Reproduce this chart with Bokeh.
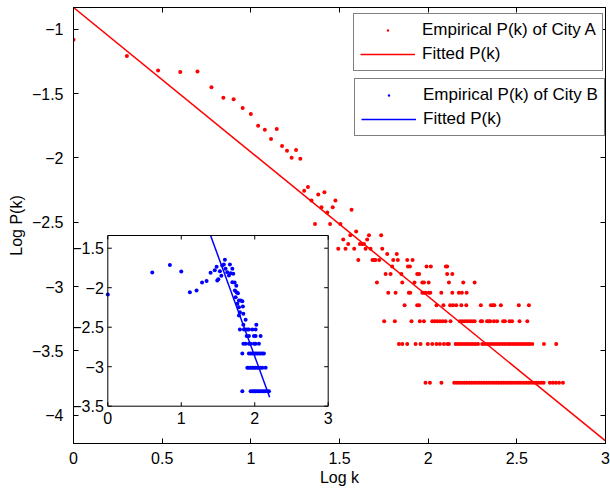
import math
from bokeh.plotting import figure
from bokeh.models import Range1d, LinearAxis, FixedTicker, Legend, LegendItem
from bokeh.core.properties import value
from bokeh.embed import file_html
from bokeh.resources import INLINE

FONT = "Liberation Sans"
FS = "16px"

# ---------------- City A (main plot), values read in log10 units ----------------
a_top_x = [0.000, 0.301, 0.477, 0.602, 0.699, 0.778, 0.845, 0.903, 0.954, 1.000, 1.041,
           1.079, 1.114, 1.146, 1.176, 1.204, 1.230, 1.255, 1.279, 1.301, 1.322, 1.342,
           1.362, 1.380, 1.398, 1.415, 1.431, 1.447, 1.462, 1.477, 1.505, 1.568]
a_top_y = [-1.080, -1.207, -1.319, -1.332, -1.327, -1.451, -1.531, -1.544, -1.612, -1.659,
           -1.749, -1.780, -1.853, -1.775, -1.907, -1.943, -1.998, -1.938, -2.006, -2.254,
           -2.226, -2.330, -2.514, -2.283, -2.384, -2.267, -2.423, -2.514, -2.384, -2.330,
           -2.514, -2.402]

a_row_y = [-2.571, -2.601, -2.633, -2.668, -2.706, -2.747, -2.793, -2.844, -2.902,
           -2.969, -3.048, -3.145, -3.270, -3.446, -3.747]
a_row_x = [
    [1.594],
    [1.561, 1.666, 1.735],
    [1.521, 1.656],
    [1.549, 1.615, 1.628, 1.638],
    [1.493, 1.534, 1.583, 1.647, 1.675, 1.741],
    [1.769, 1.823],
    [1.606, 1.686, 1.695, 1.703, 1.724, 1.803, 1.829, 1.882, 1.912],
    [1.797, 1.886, 1.897, 1.991, 2.015, 2.100, 2.107],
    [1.760, 1.788, 1.849, 1.938, 1.949, 2.107, 2.136],
    [1.711, 1.854, 1.923, 1.967, 1.976, 2.003, 2.117, 2.198, 2.262],
    [1.775, 1.816, 1.891, 1.899, 1.967, 1.976, 1.985, 2.003, 2.012, 2.074, 2.136, 2.173,
     2.190, 2.217],
    [1.867, 1.938, 1.949, 2.047, 2.086, 2.124, 2.140, 2.158, 2.187, 2.215, 2.297, 2.354,
     2.366, 2.373, 2.410, 2.511, 2.568],
    [1.752, 1.812, 1.906, 1.953, 1.976, 2.023, 2.037, 2.051, 2.066, 2.082, 2.098, 2.126,
     2.179, 2.193, 2.207, 2.221, 2.235, 2.248, 2.262, 2.297, 2.304, 2.332, 2.340, 2.350,
     2.371, 2.389, 2.423, 2.433, 2.459, 2.473, 2.515, 2.559],
    [1.835, 1.854, 1.882, 1.929, 1.957, 1.998, 2.023, 2.047, 2.066, 2.089, 2.108, 2.117,
     2.155, 2.169, 2.183, 2.197, 2.211, 2.225, 2.239, 2.253, 2.267, 2.281, 2.305, 2.319,
     2.333, 2.347, 2.361, 2.375, 2.389, 2.403, 2.417, 2.431, 2.445, 2.459, 2.473, 2.487,
     2.501, 2.515, 2.529, 2.543, 2.557, 2.571, 2.587, 2.653, 2.722],
    [1.985, 2.010, 2.075, 2.147, 2.161, 2.175, 2.189, 2.203, 2.217, 2.231, 2.245, 2.259,
     2.273, 2.287, 2.301, 2.315, 2.329, 2.343, 2.357, 2.371, 2.385, 2.399, 2.413, 2.427,
     2.441, 2.455, 2.469, 2.483, 2.497, 2.511, 2.525, 2.539, 2.553, 2.567, 2.581, 2.595,
     2.609, 2.623, 2.637, 2.651, 2.686, 2.703, 2.720, 2.738, 2.760],
]
a_fit_x = [0.0, 3.0]
a_fit_y = [-0.83, -4.20]

# ---------------- City B (inset) ----------------
b_top_x = [0.000, 0.605, 0.845, 1.000, 1.117, 1.208, 1.283, 1.345, 1.399, 1.456, 1.481,
           1.490, 1.504, 1.526, 1.545, 1.558, 1.580, 1.594, 1.603, 1.626, 1.649, 1.662,
           1.672, 1.695, 1.708, 1.695, 1.726, 1.749, 1.730, 1.753, 1.771, 1.740, 1.785,
           1.808, 1.763, 1.831, 1.785, 1.839, 1.798, 1.845, 1.785, 1.876]
b_top_y = [-2.086, -1.808, -1.711, -1.796, -2.057, -2.035, -1.934, -1.915, -1.810, -1.780,
           -1.734, -1.909, -1.892, -1.791, -1.850, -1.719, -1.706, -1.647, -1.761, -1.804,
           -1.846, -1.706, -1.816, -1.761, -1.824, -1.930, -1.934, -1.976, -2.035, -2.057,
           -2.070, -2.120, -2.162, -2.162, -2.204, -2.171, -2.247, -2.238, -2.310, -2.330,
           -2.352, -2.406]
b_row_y = [-2.470, -2.529, -2.611, -2.708, -2.833, -3.014, -3.310]
b_row_x = [
    [1.845, 2.022],
    [1.798, 1.853, 1.876, 1.899, 1.921, 1.967, 2.012],
    [1.890, 1.921, 1.989, 2.012, 2.080],
    [1.845, 1.876, 1.921, 1.944, 1.989, 2.012, 2.057],
    [1.831, 1.921, 1.944, 1.967, 1.990, 2.012, 2.035, 2.058, 2.080, 2.103, 2.125],
    [1.899, 1.921, 1.944, 1.967, 1.990, 2.012, 2.035, 2.058, 2.080, 2.103, 2.148],
    [1.831, 1.944, 1.967, 1.990, 2.012, 2.035, 2.058, 2.080, 2.103, 2.126, 2.148, 2.171,
     2.194],
]
b_fit_x = [1.399, 2.203]
b_fit_y = [-1.339, -3.386]

# tick definitions
main_xticks = [0, 0.5, 1, 1.5, 2, 2.5, 3]
main_xlabels = ["0", "0.5", "1", "1.5", "2", "2.5", "3"]
main_yticks = [-4, -3.5, -3, -2.5, -2, -1.5, -1]
main_ylabels = ["\u22124", "\u22123.5", "\u22123", "\u22122.5", "\u22122", "\u22121.5", "\u22121"]
inset_xticks = [0, 1, 2, 3]
inset_xlabels = ["0", "1", "2", "3"]
inset_yticks = [-1.5, -2, -2.5, -3, -3.5]
inset_ylabels = ["\u22121.5", "\u22122", "\u22122.5", "\u22123", "\u22123.5"]

# ---------------- assemble ----------------
a_x = list(a_top_x)
a_y = list(a_top_y)
for yv, xs in zip(a_row_y, a_row_x):
    a_x += xs
    a_y += [yv] * len(xs)
b_x = list(b_top_x)
b_y = list(b_top_y)
for yv, xs in zip(b_row_y, b_row_x):
    b_x += xs
    b_y += [yv] * len(xs)

# layout geometry (pixels)
W, H = 610, 491
FL, FR, FT, FB = 73, 605, 7, 443          # main frame
IL, IR, IT, IB = 107.3, 327.7, 235.0, 405.7  # inset frame
XLIM = (0.0, 3.0)
YLIM = (-4.22, -0.83)
IXLIM = (0.0, 3.0)
IYLIM = (-3.5, -1.339)

p = figure(width=W, height=H, x_range=Range1d(*XLIM), y_range=Range1d(*YLIM),
           output_backend="svg", toolbar_location=None,
           min_border_left=FL, min_border_right=W - FR, min_border_top=FT,
           min_border_bottom=H - FB)
p.grid.visible = False
p.outline_line_color = "black"
p.outline_line_width = 1
p.background_fill_color = "white"
p.border_fill_color = "white"

def style_axis(ax, ticks, labels, show_labels=True):
    ax.ticker = FixedTicker(ticks=ticks)
    ax.major_label_overrides = {t: (l if show_labels else "") for t, l in zip(ticks, labels)}
    ax.major_tick_in = 5
    ax.major_tick_out = 0
    ax.minor_tick_in = 0
    ax.minor_tick_out = 0
    ax.axis_line_color = "black"
    ax.major_tick_line_color = "black"
    ax.major_label_text_font = FONT
    ax.major_label_text_color = "black"
    ax.axis_label_text_font = FONT
    ax.axis_label_text_font_style = "normal"
    ax.axis_label_text_color = "black"
    if show_labels:
        ax.major_label_text_font_size = FS
        ax.axis_label_text_font_size = FS
    else:
        ax.major_label_text_font_size = "0px"
        ax.major_label_standoff = 0

style_axis(p.xaxis[0], main_xticks, main_xlabels)
style_axis(p.yaxis[0], main_yticks, main_ylabels)
p.xaxis[0].axis_label = "Log k"
p.xaxis[0].major_label_standoff = 8
p.xaxis[0].axis_label_standoff = 2
p.yaxis[0].axis_label = "Log P(k)"
p.yaxis[0].major_label_standoff = 10
p.yaxis[0].axis_label_standoff = 4

top_ax = LinearAxis()
style_axis(top_ax, main_xticks, main_xlabels, show_labels=False)
p.add_layout(top_ax, "above")
right_ax = LinearAxis()
style_axis(right_ax, main_yticks, main_ylabels, show_labels=False)
p.add_layout(right_ax, "right")

# extra ranges so the inset's own data scale covers the inset box
sx = (IR - IL) / (IXLIM[1] - IXLIM[0])
sy = (IB - IT) / (IYLIM[1] - IYLIM[0])
p.extra_x_ranges = {"ix": Range1d(IXLIM[0] - (IL - FL) / sx, IXLIM[1] + (FR - IR) / sx)}
p.extra_y_ranges = {"iy": Range1d(IYLIM[0] - (FB - IB) / sy, IYLIM[1] + (IT - FT) / sy)}
IN = dict(x_range_name="ix", y_range_name="iy")

# main data
rA_line = p.line(a_fit_x, a_fit_y, line_color="red", line_width=1.5)
rA_pts = p.scatter(a_x, a_y, size=4, marker="circle", fill_color="red", line_color=None)

# inset box
p.quad(left=[IXLIM[0]], right=[IXLIM[1]], bottom=[IYLIM[0]], top=[IYLIM[1]],
       fill_color="white", line_color=None, **IN)
rB_pts = p.scatter(b_x, b_y, size=4, marker="circle", fill_color="blue", line_color=None, **IN)
rB_line = p.line(b_fit_x, b_fit_y, line_color="blue", line_width=1.5, **IN)
p.quad(left=[IXLIM[0]], right=[IXLIM[1]], bottom=[IYLIM[0]], top=[IYLIM[1]],
       fill_color=None, line_color="black", line_width=1, **IN)

# inset ticks
n = len(inset_xticks)
m = len(inset_yticks)
p.ray(x=inset_xticks, y=[IYLIM[0]] * n, length=4, angle=math.pi / 2,
      length_units="screen", line_color="black", line_width=1, **IN)
p.ray(x=inset_xticks, y=[IYLIM[1]] * n, length=4, angle=-math.pi / 2,
      length_units="screen", line_color="black", line_width=1, **IN)
p.ray(x=[IXLIM[0]] * m, y=inset_yticks, length=4, angle=0,
      length_units="screen", line_color="black", line_width=1, **IN)
p.ray(x=[IXLIM[1]] * m, y=inset_yticks, length=4, angle=math.pi,
      length_units="screen", line_color="black", line_width=1, **IN)
p.text(x=inset_xticks, y=[IYLIM[0]] * n, text=inset_xlabels, text_align="center",
       text_baseline="top", y_offset=6, text_font=value(FONT), text_font_size=FS,
       text_color="black", **IN)
p.text(x=[IXLIM[0]] * m, y=inset_yticks, text=inset_ylabels, text_align="right",
       text_baseline="middle", x_offset=-4, text_font=value(FONT), text_font_size=FS,
       text_color="black", **IN)

def make_legend(items, loc):
    lg = Legend(items=items, location=loc, padding=6, spacing=4, margin=0,
                glyph_width=55, glyph_height=6, label_height=20, label_standoff=7,
                label_text_font=FONT, label_text_font_size="17px",
                label_text_color="black",
                border_line_color="black", border_line_width=1,
                background_fill_color="white", background_fill_alpha=1.0)
    return lg

legA = make_legend([LegendItem(label="Empirical P(k) of City A", renderers=[rA_pts]),
                    LegendItem(label="Fitted P(k)", renderers=[rA_line])], (280, 372))
legB = make_legend([LegendItem(label="Empirical P(k) of City B", renderers=[rB_pts]),
                    LegendItem(label="Fitted P(k)", renderers=[rB_line])], (281, 307))
p.add_layout(legA)
p.add_layout(legB)

open("out.html", "w").write(file_html(p, INLINE))
